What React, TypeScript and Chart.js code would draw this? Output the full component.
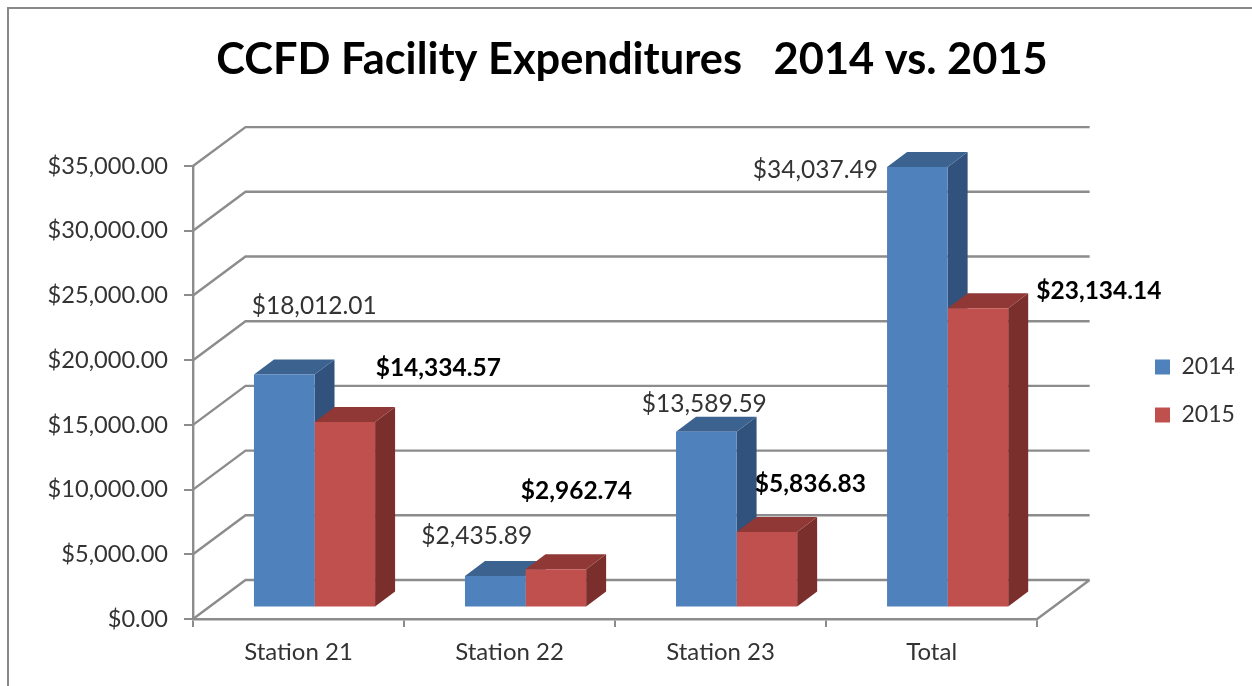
import React, { useEffect, useRef } from "react";
import { Chart, registerables } from "chart.js";

Chart.register(...registerables);

const categories = ["Station 21", "Station 22", "Station 23", "Total"];
const values2014 = [18012.01, 2435.89, 13589.59, 34037.49];
const values2015 = [14334.57, 2962.74, 5836.83, 23134.14];
const seriesNames = ["2014", "2015"];
const titleText = "CCFD Facility Expenditures   2014 vs. 2015";

// label offsets from the top-centre of each bar's front face
const labelOffsets2014 = [[30, -68], [-18.5, -39.5], [-2, -28], [-102, 3.5]];
const labelOffsets2015 = [[93.5, -53.5], [20.5, -78], [43.5, -47.5], [121, -17.5]];

const FONT = "Lato, Carlito, Calibri, sans-serif";
const GRID = "#8c8c8c";
const TEXT = "#333333";
const BAR_SHIFT = { x: 16, y: -11.5 };
const BAR_DEPTH = { x: 20, y: -15 };
const WALL = { x: 52.5, y: -39 };
const faceColors = [
  { top: "#3c6290", side: "#30527c" },
  { top: "#8f3835", side: "#7b2f2d" },
];

const money = (v: number) =>
  "$" + v.toLocaleString("en-US", { minimumFractionDigits: 2, maximumFractionDigits: 2 });

const chart3d = {
  id: "chart3d",
  afterLayout(chart: any) {
    chart.legend.left = 1130;
    chart.legend.right = 1252;
    chart.legend.top += 48;
    chart.legend.bottom += 48;
    chart.titleBlock.left = 0;
    chart.titleBlock.right = 1264;
  },
  beforeDraw(chart: any) {
    const { ctx, width, height } = chart;
    ctx.save();
    ctx.strokeStyle = "#888888";
    ctx.lineWidth = 2;
    ctx.beginPath();
    ctx.moveTo(8, height);
    ctx.lineTo(8, 8);
    ctx.lineTo(width, 8);
    ctx.stroke();
    ctx.restore();
  },
  beforeDatasetsDraw(chart: any) {
    const { ctx, scales } = chart;
    const { x, y } = scales;
    ctx.save();
    ctx.strokeStyle = GRID;
    ctx.lineWidth = 2.4;
    ctx.beginPath();
    y.ticks.forEach((t: any) => {
      const py = y.getPixelForValue(t.value);
      ctx.moveTo(x.left, py);
      ctx.lineTo(x.left + WALL.x, py + WALL.y);
      ctx.lineTo(x.right + WALL.x, py + WALL.y);
    });
    const py0 = y.getPixelForValue(0);
    ctx.moveTo(x.right, py0);
    ctx.lineTo(x.right + WALL.x, py0 + WALL.y);
    ctx.stroke();
    ctx.restore();

    ctx.save();
    ctx.translate(BAR_SHIFT.x, BAR_SHIFT.y);
    chart.data.datasets.forEach((_: any, di: number) => {
      const colors = faceColors[di];
      chart.getDatasetMeta(di).data.forEach((b: any) => {
        const l = b.x - b.width / 2;
        const r = b.x + b.width / 2;
        ctx.fillStyle = colors.side;
        ctx.beginPath();
        ctx.moveTo(r, b.y);
        ctx.lineTo(r + BAR_DEPTH.x, b.y + BAR_DEPTH.y);
        ctx.lineTo(r + BAR_DEPTH.x, b.base + BAR_DEPTH.y);
        ctx.lineTo(r, b.base);
        ctx.closePath();
        ctx.fill();
        ctx.fillStyle = colors.top;
        ctx.beginPath();
        ctx.moveTo(l, b.y);
        ctx.lineTo(l + BAR_DEPTH.x, b.y + BAR_DEPTH.y);
        ctx.lineTo(r + BAR_DEPTH.x, b.y + BAR_DEPTH.y);
        ctx.lineTo(r, b.y);
        ctx.closePath();
        ctx.fill();
      });
    });
  },
  afterDatasetsDraw(chart: any) {
    const { ctx } = chart;
    ctx.restore();
    ctx.save();
    ctx.textAlign = "center";
    ctx.textBaseline = "middle";
    ctx.fillStyle = TEXT;
    ctx.font = `24.5px ${FONT}`;
    chart.getDatasetMeta(0).data.forEach((b: any, i: number) => {
      const [dx, dy] = labelOffsets2014[i];
      ctx.fillText(money(values2014[i]), b.x + BAR_SHIFT.x + dx, b.y + BAR_SHIFT.y + dy);
    });
    ctx.fillStyle = "#000000";
    ctx.font = `bold 24.5px ${FONT}`;
    chart.getDatasetMeta(1).data.forEach((b: any, i: number) => {
      const [dx, dy] = labelOffsets2015[i];
      ctx.fillText(money(values2015[i]), b.x + BAR_SHIFT.x + dx, b.y + BAR_SHIFT.y + dy);
    });
    ctx.restore();
  },
};

export default function App() {
  const ref = useRef<HTMLCanvasElement>(null);
  useEffect(() => {
    const chart = new Chart(ref.current as HTMLCanvasElement, {
      type: "bar",
      data: {
        labels: categories,
        datasets: [
          { label: seriesNames[0], data: values2014, backgroundColor: "#4f81bd", borderWidth: 0, clip: false },
          { label: seriesNames[1], data: values2015, backgroundColor: "#c0504d", borderWidth: 0, clip: false },
        ],
      } as any,
      plugins: [chart3d],
      options: {
        responsive: false,
        animation: false,
        devicePixelRatio: 1,
        layout: { padding: { left: 0, right: 100, top: 0, bottom: 0 } },
        datasets: { bar: { barPercentage: 1, categoryPercentage: 0.574 } },
        plugins: {
          tooltip: { enabled: false },
          title: {
            display: true,
            text: titleText,
            color: "#000000",
            font: { family: FONT, size: 43.4, weight: "bold", lineHeight: 1.2 },
            padding: { top: 34, bottom: 80 },
          },
          legend: {
            display: true,
            position: "right",
            labels: {
              boxWidth: 15,
              boxHeight: 15,
              padding: 25,
              color: TEXT,
              font: { family: FONT, size: 23 },
            },
          },
        },
        scales: {
          x: {
            offset: true,
            afterFit: (s: any) => { s.height = 67; },
            grid: { display: true, drawOnChartArea: false, offset: true, color: GRID, lineWidth: 2, tickLength: 8 },
            border: { display: true, color: GRID, width: 2.4 },
            ticks: { color: TEXT, font: { family: FONT, size: 24 }, padding: 11, maxRotation: 0 },
          },
          y: {
            min: 0,
            max: 35000,
            afterFit: (s: any) => { s.width = 193; },
            grid: { display: true, drawOnChartArea: false, color: GRID, lineWidth: 2, tickLength: 9 },
            border: { display: true, color: GRID, width: 2.4 },
            ticks: { stepSize: 5000, color: TEXT, font: { family: FONT, size: 23.6 }, padding: 16, callback: (v: any) => money(Number(v)) },
          },
        },
      } as any,
    });
    return () => chart.destroy();
  }, []);
  return <canvas ref={ref} width={1252} height={686} style={{ position: "absolute", left: 0, top: 0, filter: "blur(0.5px)" }} />;
}
